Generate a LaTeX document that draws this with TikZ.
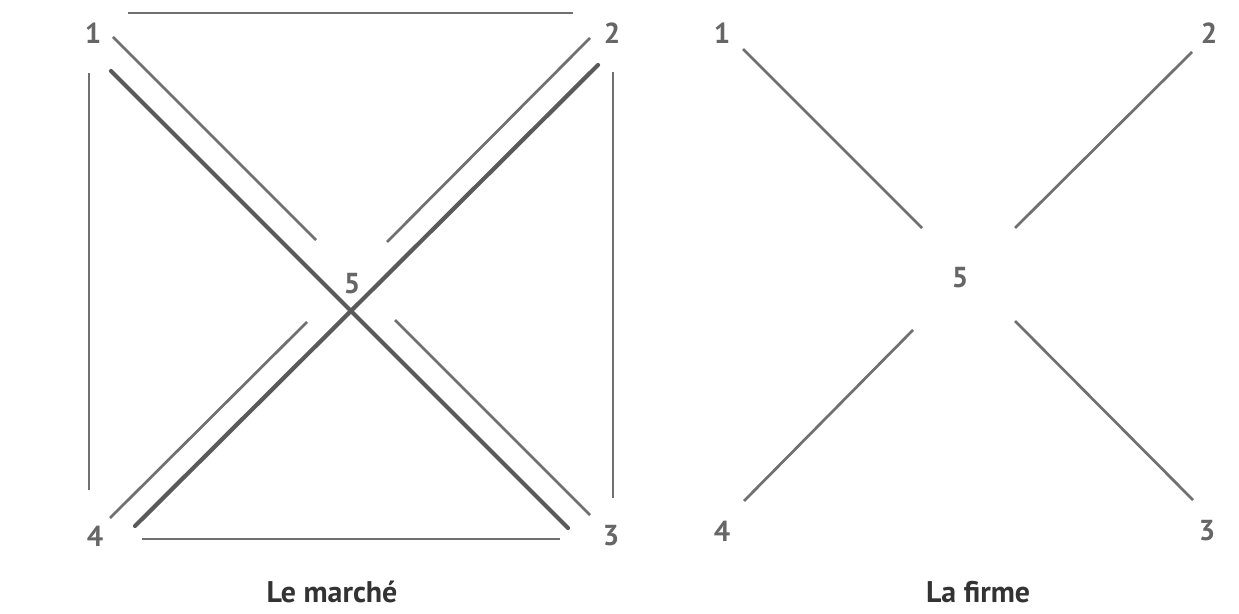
\documentclass[tikz,border=0pt]{standalone}
\usepackage{fontspec}
\setmainfont{PT Sans}
\definecolor{thinc}{HTML}{707070}
\definecolor{thickc}{HTML}{5A5A5A}
\definecolor{labc}{HTML}{666666}
\definecolor{titc}{HTML}{333333}
\begin{document}
\begin{tikzpicture}[x=1bp,y=-1bp,
  thinline/.style={draw=thinc,line width=2.7bp},
  thickline/.style={draw=thickc,line width=4.2bp,line cap=round},
  numlab/.style={text=labc,font=\fontsize{29}{29}\selectfont\bfseries,inner sep=0pt},
  titlab/.style={text=titc,font=\fontsize{30}{30}\selectfont\bfseries,inner sep=0pt}]
\useasboundingbox[fill=white] (0,0) rectangle (1239,614);
% ---------- Le marche ----------
\node[numlab] (L1) at (93,33) {1};
\node[numlab] (L2) at (612,33) {2};
\node[numlab] (L3) at (611,536) {3};
\node[numlab] (L4) at (95,536) {4};
\node[numlab] (L5) at (352,284) {5};
\node[titlab] (LT) at (332,592) {Le marché};
% endpoints
\coordinate (t12a) at (128,13);  \coordinate (t12b) at (573,13);
\coordinate (v14a) at (89,73);   \coordinate (v14b) at (89,490);
\coordinate (v23a) at (613,72);  \coordinate (v23b) at (613,498);
\coordinate (h43a) at (142,539); \coordinate (h43b) at (560,539);
\coordinate (d13a) at (111,71);  \coordinate (d13b) at (568,528);
\coordinate (d24a) at (598,65);  \coordinate (d24b) at (135,526);
\coordinate (s15a) at (113,37);  \coordinate (s15b) at (316,240);
\coordinate (s25a) at (590,38);  \coordinate (s25b) at (387,242);
\coordinate (s45a) at (110,518); \coordinate (s45b) at (307,322);
\coordinate (s35a) at (590,515); \coordinate (s35b) at (395,320);
\draw[thinline] (t12a) -- (t12b);
\draw[thinline] (v14a) -- (v14b);
\draw[thinline] (v23a) -- (v23b);
\draw[thinline] (h43a) -- (h43b);
\draw[thinline] (s15a) -- (s15b);
\draw[thinline] (s25a) -- (s25b);
\draw[thinline] (s45a) -- (s45b);
\draw[thinline] (s35a) -- (s35b);
\draw[thickline] (d13a) -- (d13b);
\draw[thickline] (d24a) -- (d24b);
% ---------- La firme ----------
\node[numlab] (R1) at (722,33) {1};
\node[numlab] (R2) at (1209,33) {2};
\node[numlab] (R3) at (1207,531) {3};
\node[numlab] (R4) at (722,531) {4};
\node[numlab] (R5) at (960,278) {5};
\node[titlab] (RT) at (978,592) {La firme};
\coordinate (r15a) at (743,49);   \coordinate (r15b) at (922,228);
\coordinate (r25a) at (1192,52);  \coordinate (r25b) at (1015,228);
\coordinate (r45a) at (744,501);  \coordinate (r45b) at (913,330);
\coordinate (r35a) at (1193,500); \coordinate (r35b) at (1015,321);
\draw[thinline] (r15a) -- (r15b);
\draw[thinline] (r25a) -- (r25b);
\draw[thinline] (r45a) -- (r45b);
\draw[thinline] (r35a) -- (r35b);
\end{tikzpicture}
\end{document}
